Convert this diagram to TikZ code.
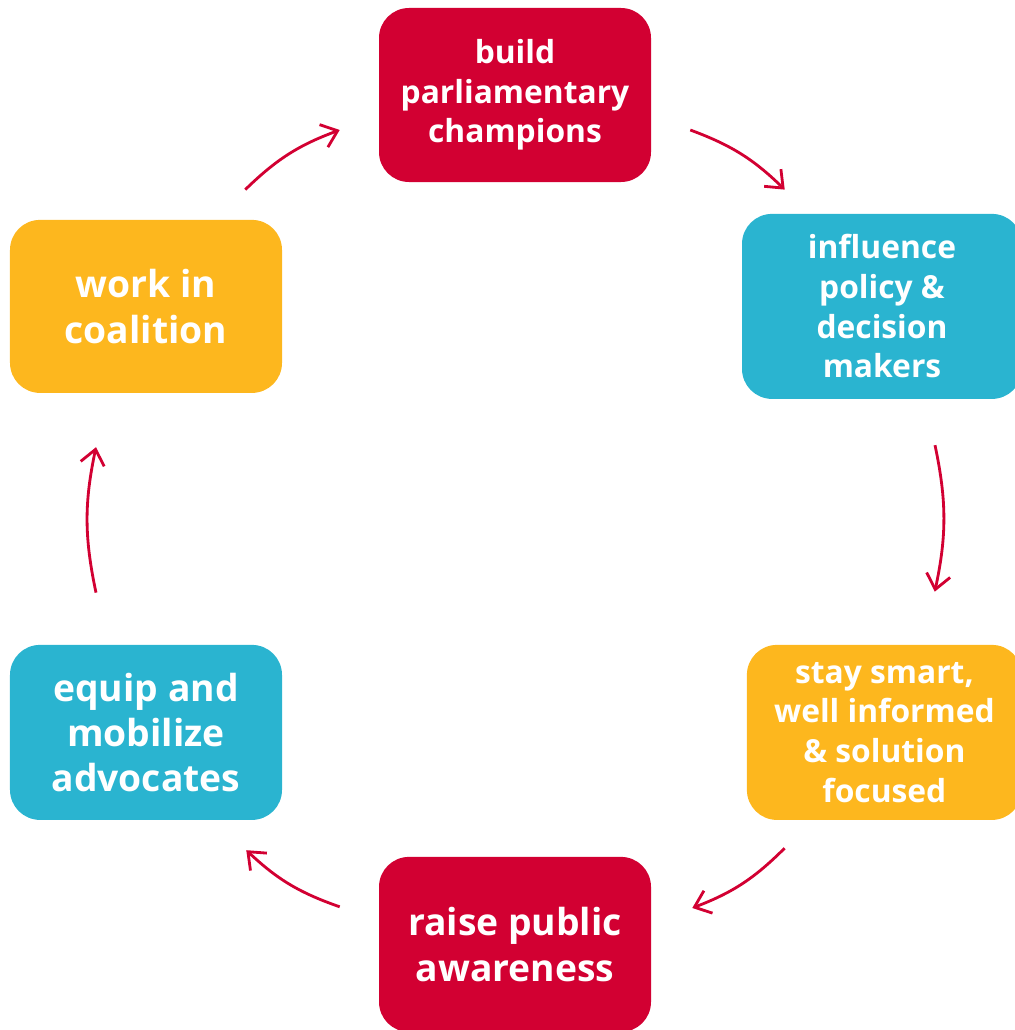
\documentclass[tikz,border=0pt]{standalone}
\usepackage{fontspec}
\setmainfont{Open Sans}
\usepackage{xcolor}
\usetikzlibrary{arrows.meta}

\definecolor{cycred}{RGB}{210,0,50}
\definecolor{cyccyan}{RGB}{42,180,208}
\definecolor{cycorange}{RGB}{253,183,30}

\tikzset{
  stagebox/.style={rounded corners=0.75cm, inner sep=0pt, align=center,
    text=white, font=\bfseries\fontsize{22.6}{28.2}\selectfont},
  bigtext/.style={font=\bfseries\fontsize{26.5}{32.2}\selectfont},
  cyc/.style={cycred, line width=2pt, bend left=12,
    -{Straight Barb[length=0.37cm, width=0.6cm]}}
}

\begin{document}
\begin{tikzpicture}
\useasboundingbox (0,0) rectangle (25.375,-25.75);

% Stages
\node[stagebox, fill=cycred, minimum width=6.8cm, minimum height=4.35cm]
  (champions) at (12.875,-2.375) {build\\parliamentary\\champions};
\node[stagebox, fill=cyccyan, minimum width=7cm, minimum height=4.625cm]
  (influence) at (22.05,-7.66) {influence\\policy \&\\decision\\makers};
\node[stagebox, fill=cycorange, minimum width=6.875cm, minimum height=4.375cm]
  (smart) at (22.11,-18.31) {stay smart,\\well informed\\\& solution\\focused};
\node[stagebox, bigtext, fill=cycred, minimum width=6.8cm, minimum height=4.375cm]
  (awareness) at (12.875,-23.61) {raise public\\awareness};
\node[stagebox, bigtext, fill=cyccyan, minimum width=6.8cm, minimum height=4.375cm]
  (advocates) at (3.65,-18.31) {equip and\\mobilize\\advocates};
\node[stagebox, bigtext, fill=cycorange, minimum width=6.8cm, minimum height=4.325cm]
  (coalition) at (3.65,-7.66) {work in\\coalition};

% Arrows
\draw[cyc] ([shift={(-0.925,0.75)}]coalition.north east) to
  ([shift={(-0.975,-0.875)}]champions.west);
\draw[cyc] ([shift={(0.975,-0.875)}]champions.east) to
  ([shift={(1.075,0.6)}]influence.north west);
\draw[cyc] ([shift={(1.325,-1.15)}]influence.south) to
  ([shift={(1.26,1.325)}]smart.north);
\draw[cyc] ([shift={(0.95,-0.7)}]smart.south west) to
  ([shift={(1.025,0.91)}]awareness.east);
\draw[cyc] ([shift={(-0.975,0.94)}]awareness.west) to
  ([shift={(-0.9,-0.75)}]advocates.south east);
\draw[cyc] ([shift={(-1.25,1.3)}]advocates.north) to
  ([shift={(-1.25,-1.35)}]coalition.south);

\end{tikzpicture}
\end{document}
